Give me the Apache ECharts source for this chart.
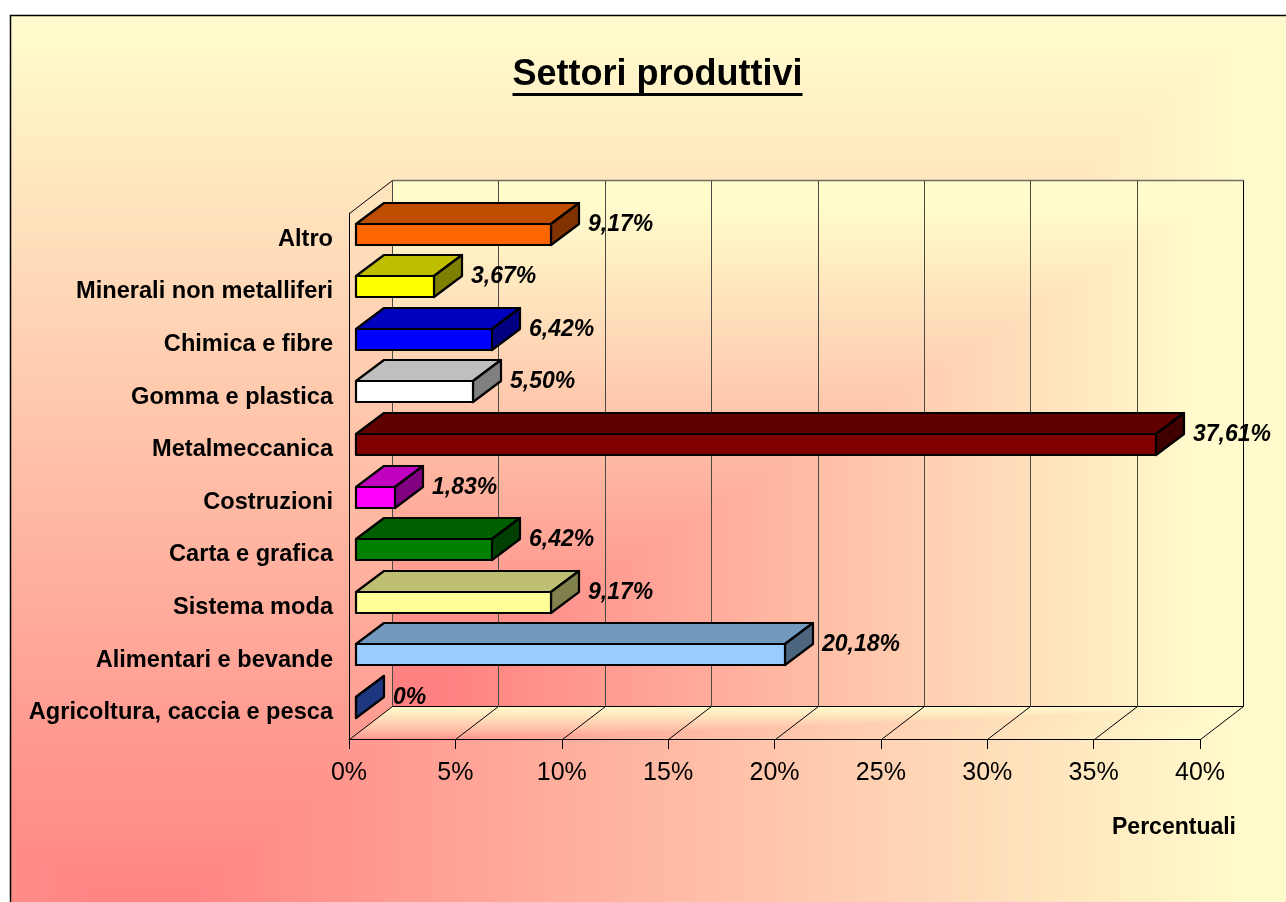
<!DOCTYPE html>
<html><head><meta charset="utf-8">
<script src="https://cdn.jsdelivr.net/npm/echarts@6/dist/echarts.min.js"></script>
<style>html,body{margin:0;padding:0;background:#fff;overflow:hidden}#chart{width:1286px;height:902px}</style>
</head><body><div id="chart"></div>
<script>
// ---------- data ----------
const categories = ['Altro','Minerali non metalliferi','Chimica e fibre','Gomma e plastica','Metalmeccanica','Costruzioni','Carta e grafica','Sistema moda','Alimentari e bevande','Agricoltura, caccia e pesca'];
const values = [9.17, 3.67, 6.42, 5.50, 37.61, 1.83, 6.42, 9.17, 20.18, 0];
const axisTicks = [0, 5, 10, 15, 20, 25, 30, 35, 40];
const titleText = 'Settori produttivi';
const axisTitle = 'Percentuali';

// ---------- styles / layout ----------
const barColors = ['#FF6600','#FFFF00','#0000FF','#FFFFFF','#800000','#FF00FF','#008000','#FFFF99','#99CCFF','#3A70FF'];
const FONT = 'Arial, "Liberation Sans", Helvetica, sans-serif';
const GRID = {left: 349, top: 213, width: 851, height: 526};
const DEPTH = [43, -33];
const BAR_FRONT = 0.155, BAR_BACK = 0.805, BAR_THICK = 0.39;
const LABEL_GAP = 9;
const PINK = [255,128,128], YELLOW = [255,251,204];

function shade(hex, f){
  const n = parseInt(hex.slice(1),16);
  const r = Math.round(((n>>16)&255)*f), g = Math.round(((n>>8)&255)*f), b = Math.round((n&255)*f);
  return 'rgb('+r+','+g+','+b+')';
}
function fmt(v){ return v === 0 ? '0%' : v.toFixed(2).replace('.', ',') + '%'; }

const W = 1286, H = 902;
function buildBackground(){
  const c = document.createElement('canvas'); c.width = W; c.height = H;
  const ctx = c.getContext('2d');
  const img = ctx.createImageData(W, H); const d = img.data;
  const wl = GRID.left + DEPTH[0], wr = wl + GRID.width, wt = GRID.top + DEPTH[1], wb = GRID.top + GRID.height + DEPTH[1];
  const ff = GRID.top + GRID.height; // floor front y
  for (let y = 0; y < H; y++){
    for (let x = 0; x < W; x++){
      const i = (y*W + x)*4;
      let s;
      if (x < 10 || y < 15){ d[i]=255; d[i+1]=255; d[i+2]=255; d[i+3]=255; continue; }
      const dd = (ff - y) / (-DEPTH[1]);
      const fxl = GRID.left + DEPTH[0]*dd;
      if (x >= wl && x <= wr && y >= wt && y <= wb){
        const t = Math.max((x-wl)/GRID.width, (wb-y)/GRID.height);
        s = (t - 0.05) / 0.9;
      } else if (y > wb && y <= ff && x >= fxl && x <= fxl + GRID.width){
        const u = (x - fxl)/GRID.width;
        s = 0.12 + 0.88*Math.max(u, Math.pow(dd, 0.7));
      } else {
        const u = x >= 150 ? (x-150)/1100 : (150-x)/1400;
        s = Math.max(u, (930-y)/900);
      }
      s = Math.max(0, Math.min(1, s));
      d[i] = PINK[0] + (YELLOW[0]-PINK[0])*s;
      d[i+1] = PINK[1] + (YELLOW[1]-PINK[1])*s;
      d[i+2] = PINK[2] + (YELLOW[2]-PINK[2])*s;
      d[i+3] = 255;
    }
  }
  ctx.putImageData(img, 0, 0);
  return c;
}

function renderFrame(params, api){
  const cs = params.coordSys;
  const t = api.value(0);
  const xf = Math.round(api.coord([t, 0])[0]) + 0.5;
  const yf = Math.round(cs.y + cs.height) + 0.5;
  const yTop = Math.round(cs.y) + 0.5;
  const xb = xf + DEPTH[0], ybb = yf + DEPTH[1], ybt = yTop + DEPTH[1];
  const last = params.dataIndex === axisTicks.length - 1;
  const ch = [
    {type:'line', shape:{x1:xf, y1:yf, x2:xb, y2:ybb}, style:{stroke:'#000', lineWidth:1}},
    {type:'line', shape:{x1:xb, y1:ybt, x2:xb, y2:ybb}, style:{stroke: last ? '#000' : '#4a4a44', lineWidth:1}}
  ];
  if (params.dataIndex === 0){
    const xl = Math.round(cs.x) + 0.5, xr = Math.round(cs.x + cs.width) + 0.5;
    ch.push({type:'line', shape:{x1:xl, y1:yTop, x2:xl+DEPTH[0], y2:ybt}, style:{stroke:'#000', lineWidth:1}});
    ch.push({type:'line', shape:{x1:xl+DEPTH[0], y1:ybt, x2:xr+DEPTH[0], y2:ybt}, style:{stroke:'#6e6e66', lineWidth:1.5}});
    ch.push({type:'line', shape:{x1:xl+DEPTH[0], y1:ybb, x2:xr+DEPTH[0], y2:ybb}, style:{stroke:'#000', lineWidth:1}});
  }
  return {type:'group', children: ch};
}

function renderBar(params, api){
  const v = api.value(0), ci = api.value(1);
  const base = api.coord([0, ci]);
  const end = api.coord([v, ci]);
  const band = api.size([0, 1])[1];
  const h = Math.round(band * BAR_THICK);
  const ox = DEPTH[0]*BAR_FRONT, oy = DEPTH[1]*BAR_FRONT;
  const dx = Math.round(DEPTH[0]*(BAR_BACK-BAR_FRONT)), dy = Math.round(DEPTH[1]*(BAR_BACK-BAR_FRONT));
  const x0 = Math.round(base[0]+ox), x1 = Math.round(end[0]+ox);
  const y0 = Math.round(base[1]+oy-h/2), y1 = y0+h;
  const col = barColors[params.dataIndex];
  const st = {stroke:'#000', lineWidth:2.2, lineJoin:'round'};
  return {type:'group', children:[
    {type:'polygon', shape:{points:[[x0,y0],[x1,y0],[x1+dx,y0+dy],[x0+dx,y0+dy]]}, style:Object.assign({fill:shade(col,0.75)}, st)},
    {type:'polygon', shape:{points:[[x1,y0],[x1+dx,y0+dy],[x1+dx,y1+dy],[x1,y1]]}, style:Object.assign({fill:shade(col,0.5)}, st)},
    {type:'polygon', shape:{points:[[x0,y0],[x1,y0],[x1,y1],[x0,y1]]}, style:Object.assign({fill:col}, st)},
    {type:'text', x: x1+dx+LABEL_GAP, y: y0+h/2-10,
      style:{text: fmt(v), font:'italic bold 23px '+FONT, fill:'#000', align:'left', verticalAlign:'middle', textAlign:'left', textVerticalAlign:'middle'}}
  ]};
}

const chart = echarts.init(document.getElementById('chart'), null, {renderer:'canvas'});
const bg = buildBackground();
const measure = document.createElement('canvas').getContext('2d');
measure.font = 'bold 36px ' + FONT;
const titleW = measure.measureText(titleText).width;
const titleX = 657.5;

chart.setOption({
  animation: false,
  backgroundColor: '#fff',
  graphic: [
    {type:'image', z:-10, silent:true, style:{image:bg, x:0, y:0, width:W, height:H}},
    {type:'rect', z:-9, silent:true, shape:{x:10.5, y:15.5, width:W+20, height:H+20}, style:{fill:'none', stroke:'#000', lineWidth:1.5}},
    {type:'text', z:5, x:titleX, y:75, style:{text:titleText, font:'bold 36px '+FONT, fill:'#000', align:'center', verticalAlign:'middle', textAlign:'center', textVerticalAlign:'middle'}},
    {type:'rect', z:5, shape:{x:titleX-titleW/2, y:93, width:titleW, height:3}, style:{fill:'#000'}},
    {type:'text', z:5, x:1174, y:828, style:{text:axisTitle, font:'bold 23px '+FONT, fill:'#000', align:'center', verticalAlign:'middle', textAlign:'center', textVerticalAlign:'middle'}}
  ],
  grid: [{left:GRID.left, top:GRID.top, width:GRID.width, height:GRID.height, containLabel:false}],
  xAxis: [{
    type:'value', min:0, max:40, interval:5,
    axisLine:{show:true, lineStyle:{color:'#000', width:1}},
    axisTick:{show:true, inside:false, length:10, lineStyle:{color:'#000', width:1}},
    axisLabel:{show:true, formatter:'{value}%', fontFamily:FONT, fontSize:25, color:'#000', margin:22},
    splitLine:{show:false}
  }],
  yAxis: [{
    type:'category', data:categories, inverse:true,
    axisLine:{show:true, lineStyle:{color:'#000', width:1}},
    axisTick:{show:false},
    axisLabel:{show:true, fontFamily:FONT, fontSize:23.6, fontWeight:'bold', color:'#000', margin:16},
    splitLine:{show:false}
  }],
  series: [
    {type:'custom', name:'frame', z:1, clip:false, silent:true, renderItem:renderFrame,
      data: axisTicks.map(t => [t, 0]), encode:{x:0, y:1}},
    {type:'custom', name:'Settori', z:3, clip:false, renderItem:renderBar,
      data: values.map((v,i) => [v, i]), encode:{x:0, y:1}}
  ]
});
</script></body></html>
